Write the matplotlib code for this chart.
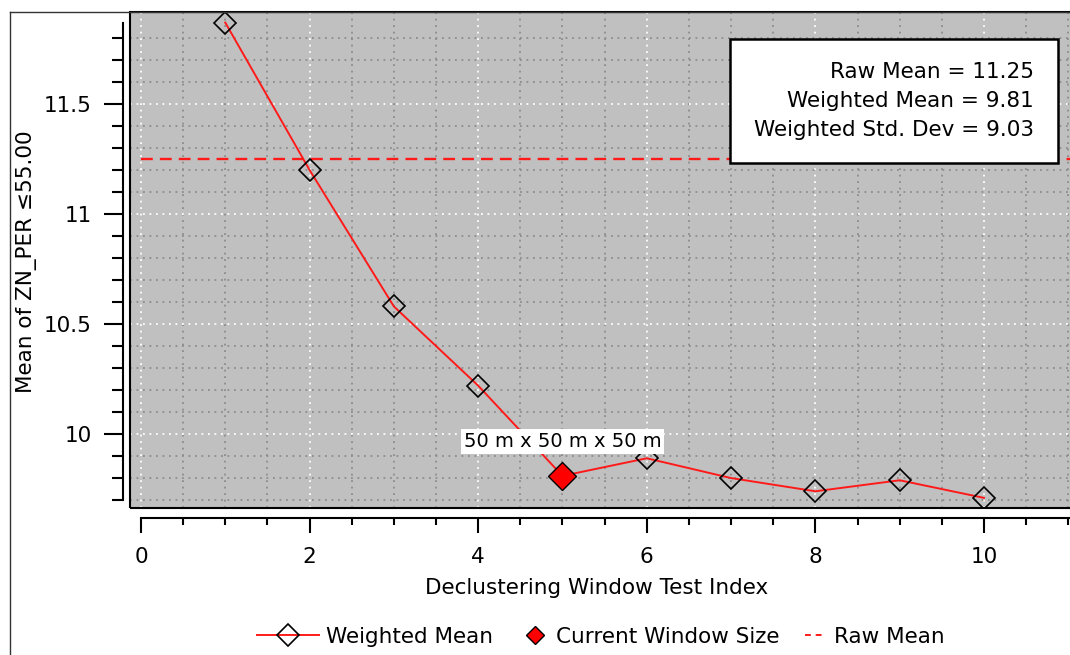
import matplotlib
matplotlib.use("Agg")
import matplotlib.pyplot as plt
from matplotlib.lines import Line2D
from matplotlib.patches import Rectangle
from matplotlib.ticker import FixedLocator, MultipleLocator, FuncFormatter
import numpy as np


# data
test_index = [1, 2, 3, 4, 5, 6, 7, 8, 9, 10]
weighted_mean = [11.87, 11.20, 10.58, 10.22, 9.81, 9.89, 9.80, 9.74, 9.79, 9.71]
current_index = 5
current_label = "50 m x 50 m x 50 m"
raw_mean = 11.25
stats_lines = ["Raw Mean = 11.25", "Weighted Mean = 9.81", "Weighted Std. Dev = 9.03"]
legend_labels = ["Weighted Mean", "Current Window Size", "Raw Mean"]
x_label = "Declustering Window Test Index"
y_label = "Mean of ZN_PER \u226455.00"

RED = "#ff1a1a"
BG = "#c0c0c0"
FS = 15.5
W, H = 1070, 655
XLIM = (-0.13, 11.02)
YLIM = (9.664, 11.918)

plt.rcParams["font.family"] = ["DejaVu Sans"]

fig = plt.figure(figsize=(W / 100, H / 100), dpi=100)
ax = fig.add_axes([130 / W, 1 - 508 / H, 940 / W, 496 / H])
ax.set_facecolor(BG)
ax.set_xlim(*XLIM)
ax.set_ylim(*YLIM)
ax.set_axisbelow(True)

# series
ax.plot(test_index, weighted_mean, color=RED, lw=1.4, marker="D", ms=11,
        mfc="none", mec="black", mew=1.2, zorder=3)
cur_y = weighted_mean[test_index.index(current_index)]
ax.plot([current_index], [cur_y], ls="none", marker="D", ms=14,
        mfc="red", mec="black", mew=1.0, zorder=4)
ax.hlines(raw_mean, 0, XLIM[1], colors=RED, lw=1.7,
          linestyles=[(0, (5, 3))], zorder=2)

ax.annotate(current_label, xy=(current_index, cur_y), xytext=(0, 25),
            textcoords="offset points", ha="center", va="center", fontsize=14,
            bbox=dict(boxstyle="square,pad=0.15", fc="white", ec="none"), zorder=6)

ax.text(0.8128, 0.8206, "\n".join(stats_lines), transform=ax.transAxes,
        ha="center", va="center", multialignment="right", fontsize=FS,
        linespacing=1.55,
        bbox=dict(boxstyle="square,pad=1.1", fc="white", ec="black", lw=1.8),
        zorder=6)

# ticks and grid
ax.xaxis.set_major_locator(MultipleLocator(2))
ax.xaxis.set_minor_locator(MultipleLocator(0.5))
ax.yaxis.set_major_locator(FixedLocator([10, 10.5, 11, 11.5]))
ax.yaxis.set_minor_locator(FixedLocator(np.arange(9.7, 11.85, 0.1)))
ax.yaxis.set_major_formatter(FuncFormatter(lambda v, _: f"{v:g}"))

dots = (0, (1, 2.6))
ax.grid(which="major", color="white", linestyle=dots, lw=1.3)
ax.grid(which="minor", color="#8c8c8c", linestyle=dots, lw=1.3)

ax.tick_params(axis="y", which="major", length=14, width=1.5, pad=8.5, labelsize=FS)
ax.tick_params(axis="y", which="minor", length=8, width=1.5)
ax.tick_params(axis="x", which="major", length=11, width=1.5, pad=10, labelsize=FS)
ax.tick_params(axis="x", which="minor", length=5, width=1.5)

minor_locs = ax.xaxis.get_minorticklocs()
for loc, t in zip(minor_locs, ax.xaxis.get_minor_ticks(len(minor_locs))):
    if abs(loc - round(loc)) < 1e-6:
        t.tick1line.set_markersize(8)

for side in ("top", "right"):
    ax.spines[side].set_visible(False)
ax.spines["left"].set_position(("outward", 5))
ax.spines["left"].set_bounds(9.7, max(weighted_mean))
ax.spines["bottom"].set_position(("outward", 7.2))
ax.spines["bottom"].set_bounds(0, 11.5)
for side in ("left", "bottom"):
    ax.spines[side].set_linewidth(1.5)

# frame of the plotting area
ax.add_patch(Rectangle((0, 0), 1.05, 1, transform=ax.transAxes, fill=False,
                       ec="black", lw=1.5, clip_on=False, zorder=5))

# panel border
fig.add_artist(Line2D([10 / W, 10 / W], [0, 1 - 12 / H], transform=fig.transFigure,
                      color="#333333", lw=1))
fig.add_artist(Line2D([10 / W, 1], [1 - 12 / H, 1 - 12 / H], transform=fig.transFigure,
                      color="#333333", lw=1))

fig.text(27 / W, 1 - 262 / H, y_label, rotation=90, ha="center", va="center", fontsize=FS)
fig.text(597 / W, 1 - 588 / H, x_label, ha="center", va="center", fontsize=FS)

# legend, one entry per block so every handle keeps its own length
h_wm = Line2D([], [], color=RED, lw=1.4, marker="D", ms=11, mfc="none",
              mec="black", mew=1.2)
h_cur = Line2D([], [], ls="none", marker="D", ms=9, mfc="red", mec="black", mew=1.0)
h_raw = Line2D([], [], color=RED, lw=1.4, ls=(0, (3, 2.5)))
entries = [(h_wm, 375, 2.9, 0.35), (h_cur, 653, 0.8, 0.6), (h_raw, 875, 0.8, 0.55)]
for (handle, cx, hl, tp), label in zip(entries, legend_labels):
    fig.legend([handle], [label], loc="center", bbox_to_anchor=(cx / W, 1 - 637 / H),
               frameon=False, fontsize=FS, handlelength=hl, handletextpad=tp)

fig.savefig("out.png", dpi=100)
